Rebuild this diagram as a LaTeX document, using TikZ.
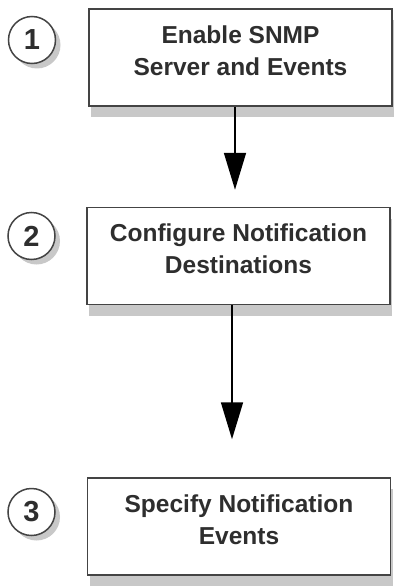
\documentclass[tikz,border=0pt]{standalone}
\usepackage{fontspec}
\setmainfont{Liberation Sans}
\usetikzlibrary{arrows.meta,shadows}
\definecolor{inkgray}{HTML}{2E2E2E}
\definecolor{edgegray}{HTML}{444444}
\definecolor{shadowgray}{HTML}{C8C8C8}
\tikzset{
  stepbox/.style={rectangle, draw=edgegray, line width=1.5pt, fill=white,
    minimum width=303pt, minimum height=97pt, align=center, text=inkgray,
    text depth=14pt, font=\fontsize{24.5}{32}\selectfont\bfseries,
    drop shadow={shadow xshift=2pt, shadow yshift=-11pt, fill=shadowgray, opacity=1}},
  stepnum/.style={circle, draw=edgegray, line width=1.5pt, fill=white,
    minimum size=47pt, inner sep=0pt, text=inkgray,
    font=\fontsize{29}{32}\selectfont\bfseries,
    drop shadow={shadow xshift=5pt, shadow yshift=-5pt, fill=shadowgray, opacity=1}},
  flow/.style={line width=1.7pt, -{Triangle[length=37pt,width=22pt]}}
}
\begin{document}
\begin{tikzpicture}[x=1pt,y=-1pt]
  \useasboundingbox (0,0) rectangle (396,586);
  % steps
  \node[stepbox] (enable) at (240.5,57.5) {Enable SNMP\\Server and Events};
  \node[stepbox] (dest) at (238.5,256) {Configure Notification\\Destinations};
  \node[stepbox] (events) at (239,526.5) {Specify Notification\\Events};
  % numbers
  \node[stepnum] (n1) at (32,40) {1};
  \node[stepnum] (n2) at (31.5,236) {2};
  \node[stepnum] (n3) at (31.5,512) {3};
  % arrows
  \draw[flow, shorten >=17pt] ([xshift=-5.5pt]enable.south) -- ([xshift=-3.5pt]dest.north);
  \draw[flow, shorten >=38pt] ([xshift=-6.5pt]dest.south) -- ([xshift=-7pt]events.north);
\end{tikzpicture}
\end{document}
